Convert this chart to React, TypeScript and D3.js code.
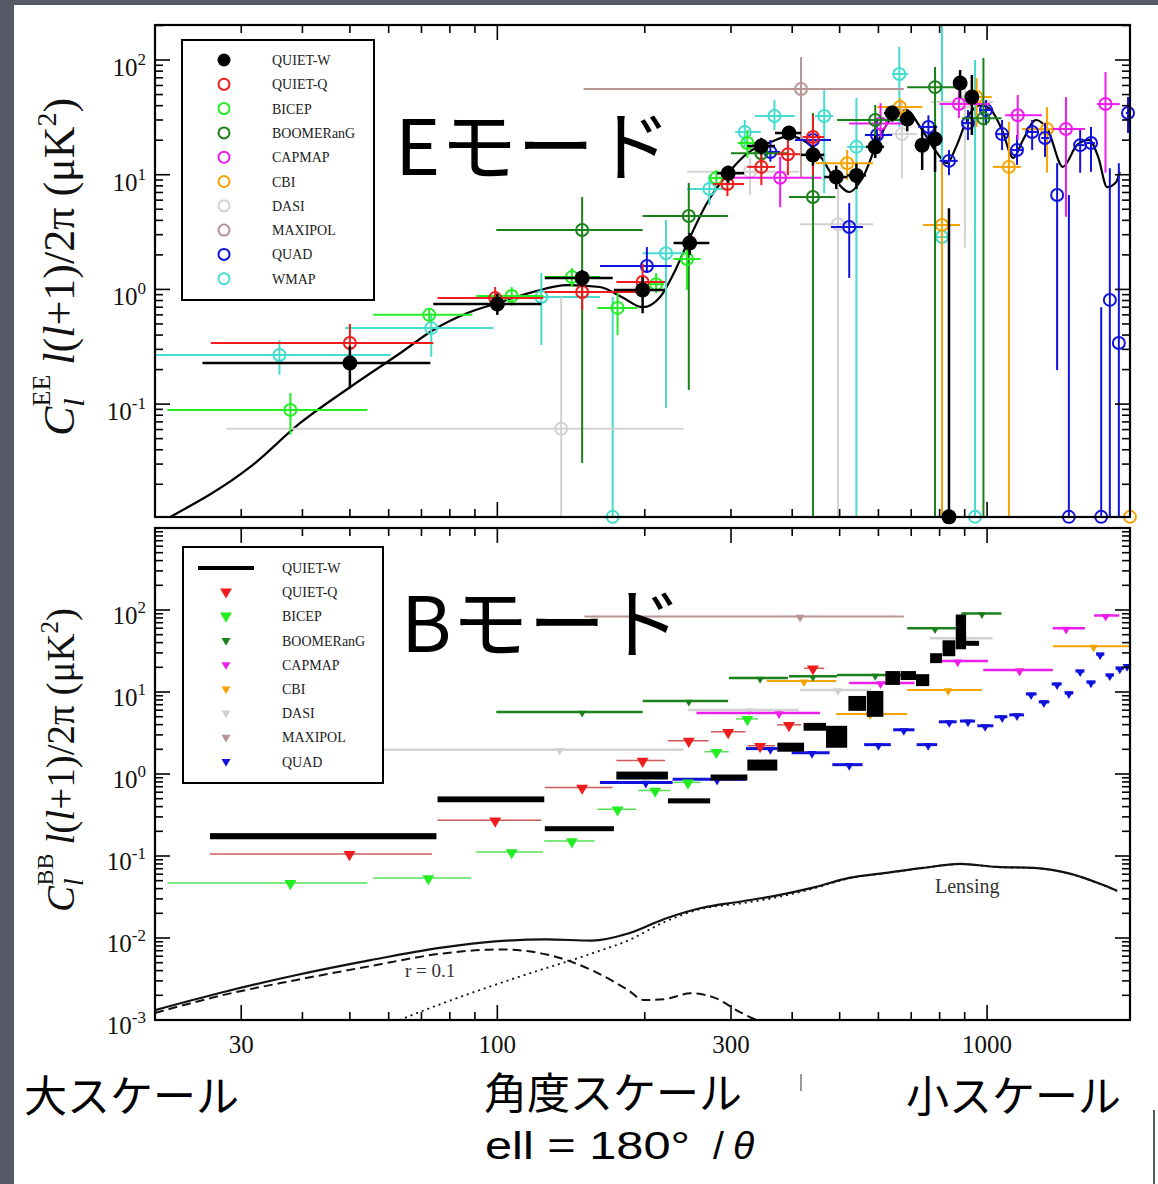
import React from "react";
import * as d3 from "d3";

// [ell, ellLo, ellHi, value, valueLo, valueHi]
type EERow = [number, number, number, number, number, number];
// [ell, ellLo, ellHi, upper limit]
type BBRow = [number, number, number, number];
type Pt = [number, number];

// points that sit on the bottom axis of the EE panel
const FLOOR = 0.0104;

const legendNames = ["QUIET-W", "QUIET-Q", "BICEP", "BOOMERanG", "CAPMAP", "CBI", "DASI", "MAXIPOL", "QUAD", "WMAP"];
const colors: Record<string, string> = {
  "QUIET-W": "#000000",
  "QUIET-Q": "#ee1c1c",
  BICEP: "#22ee22",
  BOOMERanG: "#1a801a",
  CAPMAP: "#ee1cee",
  CBI: "#f5a300",
  DASI: "#d2d2d2",
  MAXIPOL: "#b89494",
  QUAD: "#1212dd",
  WMAP: "#45dccf",
};

// ---------- E-mode band powers ----------
const eeQuietW: EERow[] = [
  [50, 25, 73, 0.228, 0.138, 0.32],
  [100, 74, 123, 0.746, 0.6, 0.92],
  [149, 125, 172, 1.26, 1.05, 1.48],
  [198, 173, 219, 0.99, 0.62, 1.28],
  [247, 229, 271, 2.54, 2.0, 3.1],
  [296, 281, 319, 10.3, 8.5, 12],
  [346, 324, 369, 17.8, 15, 21],
  [394, 369, 417, 23.1, 20, 26],
  [441, 417, 465, 14.9, 12, 18],
  [492, 465, 518, 9.55, 7.5, 12],
  [541, 518, 566, 9.86, 7.5, 12.5],
  [591, 566, 616, 17.5, 14, 22],
  [640, 616, 664, 34.5, 29, 40],
  [687, 664, 712, 30.6, 24, 37],
  [737, 712, 760, 18.1, 11, 25.5],
  [783, 760, 810, 20.5, 10.6, 27],
  [836, 810, 860, FLOOR, FLOOR, 5.1],
  [881, 860, 905, 63, 46.7, 81.8],
  [931, 905, 955, 47.5, 22.2, 74],
];
const eeQuietQ: EERow[] = [
  [50, 26, 74, 0.341, 0.19, 0.5],
  [99, 75.5, 124, 0.84, 0.66, 1.05],
  [149, 125, 203, 0.95, 0.66, 1.14],
  [198, 175, 220, 1.16, 0.89, 1.67],
  [295, 276, 319, 8.3, 6.5, 10.6],
  [346, 324, 369, 11.7, 8.1, 14.9],
  [392, 373, 415, 15.1, 9.9, 20.1],
  [441, 420, 465, 21.3, 9.9, 33],
];
const eeBicep: EERow[] = [
  [37.8, 21.2, 54.3, 0.089, 0.054, 0.125],
  [72.6, 55.8, 88.9, 0.6, 0.53, 0.69],
  [107, 90.6, 124, 0.875, 0.72, 1.05],
  [142, 125, 162, 1.28, 1.05, 1.54],
  [176, 160, 193, 0.69, 0.4, 0.93],
  [211, 203, 219, 1.11, 0.93, 1.39],
  [244, 229, 260, 1.84, 0.99, 2.54],
  [280, 270, 290, 9.35, 8, 11],
  [324, 310, 338, 18.9, 14, 24.5],
];
const eeBoomerang: EERow[] = [
  [149, 99.5, 198, 3.3, 0.0307, 6.4],
  [246, 198, 296, 4.37, 0.133, 8.5],
  [346, 300, 394, 15.4, 12, 20],
  [441, 394, 490, 6.4, FLOOR, 34.5],
  [591, 494, 684, 30, 21.3, 40.5],
  [783, 687, 871, 58, FLOOR, 87],
  [983, 890, 1070, 31, FLOOR, 104],
];
const eeCapmap: EERow[] = [
  [378, 281, 459, 9.4, 5.2, 14.3],
  [606, 523, 684, 28, 21.3, 42],
  [876, 800, 1014, 41.3, 31.2, 54.7],
  [1155, 1089, 1294, 33, 20.1, 49.5],
  [1449, 1362, 1584, 25, 4.3, 47.5],
  [1745, 1676, 1866, 41.3, 10.4, 78.6],
];
const eeCbi: EERow[] = [
  [518, 446, 585, 12.6, 9.0, 16.4],
  [664, 596, 737, 39, 31.2, 46.7],
  [809, 740, 881, 3.65, FLOOR, 13.4],
  [952, 910, 1022, 47.6, 26.1, 69.7],
  [1108, 1028, 1172, 11.7, FLOOR, 28.8],
  [1326, 1178, 1362, 25, 10.4, 38.9],
  [1958, 1958, 1958, FLOOR, FLOOR, FLOOR],
];
const eeDasi: EERow[] = [
  [135, 28, 240, 0.061, FLOOR, 0.86],
  [328, 244, 413, 10.6, 6.65, 14.0],
  [496, 415, 585, 3.7, FLOOR, 9.0],
  [670, 626, 720, 22.6, 9.35, 44.8],
  [901, 768, 1028, 43, 2.3, 58],
];
const eeMaxipol: EERow[] = [[417, 150, 676, 55.9, 9.55, 106]];
const eeQuad: EERow[] = [
  [202, 162, 227, 1.6, 1.39, 2.34],
  [361, 345, 378, 15.8, 13, 20.1],
  [441, 405, 480, 20.1, 16, 25],
  [523, 480, 558, 3.5, 1.26, 5.66],
  [596, 563, 640, 22.2, 16.4, 30],
  [759, 724, 791, 26.1, 20.1, 33],
  [836, 800, 871, 13.2, 9.9, 16.4],
  [914, 890, 940, 28.2, 20.1, 36.6],
  [995, 965, 1030, 36.6, 27, 44.8],
  [1073, 1045, 1105, 22.6, 16.4, 30],
  [1151, 1120, 1185, 16.4, 12.2, 22.2],
  [1236, 1205, 1265, 23.6, 16.4, 30],
  [1313, 1290, 1340, 20.9, 14.3, 28.2],
  [1390, 1390, 1390, 6.65, 0.198, 12.6],
  [1469, 1469, 1469, FLOOR, FLOOR, 6.65],
  [1549, 1520, 1580, 18.1, 10.4, 25.5],
  [1630, 1600, 1660, 18.9, 10.6, 26.1],
  [1710, 1710, 1710, FLOOR, FLOOR, 0.7],
  [1781, 1781, 1781, 0.81, FLOOR, 11.4],
  [1858, 1858, 1858, 0.341, FLOOR, 12.6],
  [1940, 1920, 1958, 34.5, 23.1, 47.5],
];
const eeWmap: EERow[] = [
  [35.9, 20, 60.5, 0.268, 0.18, 0.362],
  [73.3, 48.9, 98.1, 0.46, 0.258, 0.62],
  [123, 108, 162, 0.86, 0.327, 1.39],
  [172, 162, 183, FLOOR, FLOOR, 0.86],
  [221, 198, 241, 2.07, 0.0925, 4.03],
  [271, 244, 296, 7.5, 5.45, 10],
  [320, 306, 345, 23.6, 17.5, 30],
  [368, 336, 405, 32.5, 24.5, 44.8],
  [465, 445, 485, 32.5, 6.9, 54.7],
  [541, 518, 566, 17.5, FLOOR, 46.7],
  [662, 640, 690, 75.5, 26.1, 130],
  [809, 785, 835, 2.86, FLOOR, 202],
  [945, 945, 945, FLOOR, FLOOR, 100],
];

const eeTheory: Pt[] = [
  [21.5, 0.0104], [31.3, 0.0283], [39.6, 0.0685], [50.1, 0.141], [63.4, 0.279], [74, 0.443],
  [86.9, 0.622], [100, 0.76], [118, 0.948], [139, 1.09], [162, 1.05], [181, 0.84], [198, 0.7],
  [215, 0.86], [231, 1.48], [246, 2.7], [268, 5.66], [296, 10.3], [327, 15.8], [362, 19.3],
  [394, 21.7], [427, 19.3], [459, 14.0], [490, 9.0], [523, 7.07], [558, 9.55], [600, 20.1],
  [640, 31.8], [684, 36.6], [730, 26.1], [783, 16.4], [829, 12.6], [864, 17.4], [923, 34.5],
  [972, 40.5], [1019, 36.6], [1073, 24.5], [1131, 14.0], [1184, 20.1], [1259, 30.0], [1331, 24.5],
  [1428, 11.7], [1526, 18.1], [1615, 20.1], [1686, 14.3], [1758, 7.8], [1834, 8.6], [1866, 10.6],
];

// ---------- B-mode ----------
// QUIET-W boxes: [ellLo, ellHi, valueLo, valueHi]
const bbQuietW: [number, number, number, number][] = [
  [25.9, 75.1, 0.16, 0.19],
  [75.5, 124.7, 0.452, 0.533],
  [125, 173, 0.206, 0.225],
  [175, 223, 0.857, 1.07],
  [223, 272, 0.438, 0.505],
  [272.6, 324, 0.834, 0.986],
  [324, 373, 1.1, 1.5],
  [373, 423, 1.87, 2.41],
  [422, 469, 3.37, 4.2],
  [469, 518, 2.09, 3.87],
  [521, 566, 5.89, 8.95],
  [568, 614, 4.98, 10.3],
  [620, 664, 12.2, 18.0],
  [666, 716, 14.0, 18.0],
  [716, 762, 11.8, 16.5],
  [765, 809, 22.5, 29.7],
  [811, 861, 27.3, 42.7],
  [863, 906, 33.2, 88],
  [906, 963, 37.1, 41.5],
];
const bbQuietQ: BBRow[] = [
  [49.9, 25.9, 73.6, 0.106],
  [99, 75.5, 123, 0.273],
  [149, 125, 172, 0.685],
  [198, 175, 220, 1.46],
  [246, 223, 270, 2.55],
  [296, 273, 321, 3.27],
  [344, 324, 369, 2.21],
  [394, 373, 417, 3.98],
  [441, 423, 465, 19.5],
];
const bbBicep: BBRow[] = [
  [37.8, 21.2, 54.3, 0.047],
  [72.3, 55.8, 88.5, 0.054],
  [107, 90.6, 124, 0.112],
  [142, 124.7, 158, 0.152],
  [176, 160, 192, 0.372],
  [210, 194, 226, 0.63],
  [245, 229, 260, 0.79],
  [280, 265, 297, 1.87],
  [324, 307, 341, 4.7],
];
const bbBoomerang: BBRow[] = [
  [149, 99.5, 198, 5.72],
  [246, 198, 296, 7.78],
  [344, 297, 392, 14.8],
  [441, 394, 494, 15.6],
  [591, 494, 680, 16.1],
  [783, 687, 863, 59.7],
  [976, 886, 1070, 90.8],
];
const bbCapmap: BBRow[] = [
  [376, 255, 456, 5.56],
  [606, 523, 711, 12.9],
  [871, 809, 1004, 23.8],
  [1165, 983, 1362, 18.5],
  [1450, 1362, 1584, 59.7],
  [1746, 1654, 1861, 85.7],
];
const bbCbi: BBRow[] = [
  [423, 355, 492, 13.6],
  [577, 492, 687, 5.4],
  [833, 687, 976, 10.6],
  [1165, 983, 1362, 18.5],
  [1650, 1362, 1958, 36.1],
];
const bbDasi: BBRow[] = [
  [134, 28, 240, 1.98],
  [327, 245, 413, 6.05],
  [496, 415, 580, 10.6],
  [901, 763, 1026, 45.2],
];
const bbMaxipol: BBRow[] = [[415, 150.6, 676, 83.4]];
const bbQuad: BBRow[] = [
  [201, 162, 228, 0.79],
  [281, 228, 322, 0.86],
  [361, 322, 373, 2.04],
  [439, 399, 477, 1.82],
  [523, 483, 557, 1.3],
  [600, 561, 636, 2.28],
  [676, 643, 711, 3.46],
  [758, 718, 791, 2.28],
  [837, 797, 867, 4.33],
  [914, 880, 945, 4.42],
  [991, 955, 1030, 3.87],
  [1074, 1035, 1100, 4.98],
  [1151, 1110, 1190, 5.26],
  [1230, 1200, 1262, 9.46],
  [1306, 1275, 1340, 7.57],
  [1390, 1355, 1420, 12.5],
  [1469, 1440, 1500, 9.73],
  [1549, 1515, 1580, 18.0],
  [1630, 1595, 1665, 13.2],
  [1701, 1670, 1735, 28.9],
  [1781, 1745, 1815, 16.1],
  [1866, 1830, 1905, 19.5],
  [1931, 1905, 1958, 21.0],
];

const bbTotal: Pt[] = [
  [20, 0.00132], [27.5, 0.00218], [38.7, 0.00351], [54.8, 0.00533], [77.6, 0.00767], [99, 0.00908],
  [126, 0.0096], [156, 0.0093], [185, 0.01135], [220, 0.0172], [262, 0.0234], [312, 0.0277],
  [369, 0.0327], [439, 0.0409], [523, 0.0541], [622, 0.0622], [740, 0.0716], [881, 0.08],
  [1047, 0.0736], [1246, 0.0716], [1483, 0.0605], [1701, 0.0458], [1843, 0.0377],
];
const bbTensor: Pt[] = [
  [20, 0.00122], [27.5, 0.00201], [38.7, 0.00306], [54.8, 0.00452], [77.6, 0.00649], [102, 0.00726],
  [126, 0.0063], [156, 0.00404], [185, 0.00231], [199, 0.00175], [220, 0.0018], [248, 0.00212],
  [279, 0.00185], [313, 0.00125], [344, 0.001], [378, 0.00085],
];
const bbLensing: Pt[] = [
  [63.1, 0.001], [77.6, 0.00161], [110, 0.00332], [156, 0.00649], [185, 0.00933], [220, 0.0158],
  [262, 0.0228], [312, 0.0262], [369, 0.031], [439, 0.0397], [523, 0.0535], [622, 0.0618],
  [740, 0.0712], [881, 0.0797], [1047, 0.0733], [1246, 0.0713], [1483, 0.0602], [1701, 0.0455],
  [1843, 0.0374],
];

const xTickLabels = [30, 100, 300, 1000];
const topXMajor = [100, 1000];
const eeYLabels = [0.1, 1, 10, 100];
const bbYLabels = [0.001, 0.01, 0.1, 1, 10, 100];

// ---------- scales ----------
const PL = 155, PR = 1130;
const E_TOP = 25, E_BOT = 517, B_TOP = 528, B_BOT = 1020;
const x = d3.scaleLog().domain([20, 1958]).range([PL, PR]).clamp(true);
const yE = d3.scaleLog().domain([0.01037, 202]).range([E_BOT, E_TOP]).clamp(true);
const yB = d3.scaleLog().domain([1e-3, 1e3]).range([B_BOT, B_TOP]).clamp(true);

const isPow10 = (t: number) => Math.abs(Math.log10(t) - Math.round(Math.log10(t))) < 1e-6;
const SERIF = "'Liberation Serif', 'Times New Roman', serif";
const JP = "'Noto Sans CJK JP', 'Noto Sans', sans-serif";
const SANS = "'Liberation Sans', 'Noto Sans', sans-serif";

function Frame({ ys, top, bot, xMajor }: any) {
  const xt = x.ticks();
  const yt = ys.ticks();
  return (
    <g stroke="#000" strokeWidth={1.6}>
      {xt.map((t: number) => {
        const len = xMajor.includes(t) ? 15 : 8;
        const xx = x(t);
        return (
          <g key={"x" + t}>
            <line x1={xx} x2={xx} y1={top} y2={top + len} />
            <line x1={xx} x2={xx} y1={bot} y2={bot - len} />
          </g>
        );
      })}
      {yt.map((t: number) => {
        const len = isPow10(t) ? 15 : 8;
        const yy = ys(t);
        return (
          <g key={"y" + t}>
            <line x1={PL} x2={PL + len} y1={yy} y2={yy} />
            <line x1={PR} x2={PR - len} y1={yy} y2={yy} />
          </g>
        );
      })}
      <rect x={PL} y={top} width={PR - PL} height={bot - top} fill="none" strokeWidth={2.2} />
    </g>
  );
}

function YLabels({ ys, dy, values }: any) {
  return (
    <g fontFamily={SERIF} fill="#111">
      {values.map((t: number) => (
        <text key={t} x={146} y={ys(t) + dy} textAnchor="end" fontSize={25}>
          10<tspan fontSize={17} dy={-11}>{String(Math.round(Math.log10(t)))}</tspan>
        </text>
      ))}
    </g>
  );
}

function EEMarks({ name, rows }: { name: string; rows: EERow[] }) {
  const c = colors[name];
  const filled = name === "QUIET-W";
  return (
    <g stroke={c} strokeWidth={filled ? 2.5 : 2} fill="none">
      {rows.map((r, i) => {
        const cx = x(r[0]);
        const cy = yE(r[3]);
        return (
          <g key={i}>
            {r[2] > r[1] && <line x1={x(r[1])} x2={x(r[2])} y1={cy} y2={cy} />}
            {r[5] > r[4] && <line x1={cx} x2={cx} y1={yE(r[4])} y2={yE(r[5])} />}
            {filled ? (
              <circle cx={cx} cy={cy} r={7.5} fill={c} stroke="none" />
            ) : (
              <circle cx={cx} cy={cy} r={6} />
            )}
          </g>
        );
      })}
    </g>
  );
}

const tri = (cx: number, cy: number, s: number) =>
  `M${cx - s},${cy - s * 0.8}L${cx + s},${cy - s * 0.8}L${cx},${cy + s * 0.9}Z`;

function BBMarks({ name, rows, lw, lineColor, s }: any) {
  const c = colors[name];
  return (
    <g>
      {rows.map((r: BBRow, i: number) => {
        const yy = yB(r[3]);
        return (
          <g key={i}>
            <line x1={x(r[1])} x2={x(r[2])} y1={yy} y2={yy} stroke={lineColor || c} strokeWidth={lw} />
            <path d={tri(x(r[0]), yy + 2, s)} fill={c} />
          </g>
        );
      })}
    </g>
  );
}

const eeOrder: [string, EERow[]][] = [
  ["WMAP", eeWmap],
  ["DASI", eeDasi],
  ["MAXIPOL", eeMaxipol],
  ["CBI", eeCbi],
  ["QUAD", eeQuad],
  ["CAPMAP", eeCapmap],
  ["BOOMERanG", eeBoomerang],
  ["BICEP", eeBicep],
  ["QUIET-Q", eeQuietQ],
  ["QUIET-W", eeQuietW],
];

const bbOrder: [string, BBRow[], number, string | null, number][] = [
  ["MAXIPOL", bbMaxipol, 2, null, 4.5],
  ["DASI", bbDasi, 2.5, null, 4.5],
  ["CBI", bbCbi, 2, null, 4.5],
  ["CAPMAP", bbCapmap, 2.5, null, 4.5],
  ["BOOMERanG", bbBoomerang, 2.5, null, 4],
  ["QUAD", bbQuad, 3, null, 4.5],
  ["BICEP", bbBicep, 1.5, "#55e055", 6],
  ["QUIET-Q", bbQuietQ, 1.5, "#d05a5a", 6],
];

export default function App() {
  const lineE = d3.line<Pt>().x((d) => x(d[0])).y((d) => yE(d[1])).curve(d3.curveMonotoneX);
  const lineB = d3.line<Pt>().x((d) => x(d[0])).y((d) => yB(d[1])).curve(d3.curveMonotoneX);

  return (
    <svg width={1158} height={1184} style={{ position: "absolute", left: 0, top: 0 }} fontFamily={SERIF}>
      <defs>
        <clipPath id="clipE">
          <rect x={PL} y={E_TOP} width={PR - PL} height={E_BOT - E_TOP} />
        </clipPath>
        <clipPath id="clipB">
          <rect x={PL} y={B_TOP} width={PR - PL} height={B_BOT - B_TOP} />
        </clipPath>
      </defs>
      <rect width={1158} height={1184} fill="#555a66" />
      <rect x={14} y={5} width={1144} height={1179} fill="#ffffff" />
      <rect x={1153} y={1110} width={2} height={74} fill="#555a66" />
      <line x1={801} x2={801} y1={1074} y2={1091} stroke="#999" strokeWidth={2} />

      {/* ---------- E-mode panel ---------- */}
      <g clipPath="url(#clipE)">
        <path d={lineE(eeTheory) || ""} fill="none" stroke="#000" strokeWidth={2.2} />
      </g>
      {eeOrder.map(([n, rows]) => (
        <EEMarks key={n} name={n} rows={rows} />
      ))}
      <Frame ys={yE} top={E_TOP} bot={E_BOT} xMajor={topXMajor} />
      <YLabels ys={yE} dy={16} values={eeYLabels} />

      <g>
        <rect x={182} y={40} width={192} height={260} fill="#fff" stroke="#000" strokeWidth={2} />
        {legendNames.map((n, i) => {
          const yy = 60 + i * 24.3;
          return (
            <g key={n}>
              {n === "QUIET-W" ? (
                <circle cx={224} cy={yy} r={6.5} fill="#000" />
              ) : (
                <circle cx={224} cy={yy} r={5.5} fill="none" stroke={colors[n]} strokeWidth={2} />
              )}
              <text x={272} y={yy + 5} fontSize={14} fill="#222">
                {n}
              </text>
            </g>
          );
        })}
      </g>

      <text x={395} y={175} fontFamily={JP} fontSize={77} fill="#000">
        Eモード
      </text>

      <text transform="translate(74,267) rotate(-90)" textAnchor="middle" fontSize={44} fill="#111">
        <tspan fontStyle="italic">C</tspan>
        <tspan fontStyle="italic" fontSize={30} dy={10}>l</tspan>
        <tspan fontSize={26} dx={-8} dy={-34}>EE</tspan>
        <tspan dy={24} dx={10} fontStyle="italic">l</tspan>
        <tspan>(</tspan>
        <tspan fontStyle="italic">l</tspan>
        <tspan>+1)/2π (μK</tspan>
        <tspan fontSize={28} dy={-18}>2</tspan>
        <tspan dy={18}>)</tspan>
      </text>

      {/* ---------- B-mode panel ---------- */}
      <g clipPath="url(#clipB)">
        <path d={lineB(bbLensing) || ""} fill="none" stroke="#111" strokeWidth={1.8} strokeDasharray="2,4" />
        <path d={lineB(bbTensor) || ""} fill="none" stroke="#111" strokeWidth={2} strokeDasharray="9,5" />
        <path d={lineB(bbTotal) || ""} fill="none" stroke="#111" strokeWidth={2.2} />
      </g>
      <text x={935} y={893} fontSize={20} fill="#333">Lensing</text>
      <text x={405} y={977} fontSize={19} fill="#333">r = 0.1</text>

      {bbOrder.map(([n, rows, lw, lc, s]) => (
        <BBMarks key={n} name={n} rows={rows} lw={lw} lineColor={lc} s={s} />
      ))}
      {bbQuietW.map((b, i) => {
        const y1 = yB(b[3]);
        const y0 = yB(b[2]);
        const h = Math.max(y0 - y1, 5);
        return <rect key={i} x={x(b[0])} y={(y0 + y1) / 2 - h / 2} width={x(b[1]) - x(b[0])} height={h} fill="#000" />;
      })}

      <Frame ys={yB} top={B_TOP} bot={B_BOT} xMajor={xTickLabels} />
      <YLabels ys={yB} dy={14} values={bbYLabels} />

      <g>
        <rect x={183} y={547} width={200} height={236} fill="#fff" stroke="#000" strokeWidth={2} />
        {legendNames.slice(0, 9).map((n, i) => {
          const yy = 568 + i * 24.2;
          const s = i < 3 ? 6 : 4.5;
          return (
            <g key={n}>
              {n === "QUIET-W" ? (
                <line x1={198} x2={254} y1={yy} y2={yy} stroke="#000" strokeWidth={4} />
              ) : (
                <path d={tri(226, yy + 1, s)} fill={colors[n]} />
              )}
              <text x={282} y={yy + 5} fontSize={14} fill="#222">
                {n}
              </text>
            </g>
          );
        })}
      </g>

      <text x={401} y={652} fontFamily={JP} fontSize={77} fill="#000">
        Bモード
      </text>

      <text transform="translate(74,760) rotate(-90)" textAnchor="middle" fontSize={39} fill="#111">
        <tspan fontStyle="italic">C</tspan>
        <tspan fontStyle="italic" fontSize={27} dy={9}>l</tspan>
        <tspan fontSize={24} dx={-7} dy={-30}>BB</tspan>
        <tspan dy={21} dx={9} fontStyle="italic">l</tspan>
        <tspan>(</tspan>
        <tspan fontStyle="italic">l</tspan>
        <tspan>+1)/2π (μK</tspan>
        <tspan fontSize={25} dy={-16}>2</tspan>
        <tspan dy={16}>)</tspan>
      </text>

      {xTickLabels.map((t) => (
        <text key={t} x={x(t)} y={1053} textAnchor="middle" fontSize={25} fill="#111">
          {t}
        </text>
      ))}

      {/* ---------- captions ---------- */}
      <g fontFamily={JP} fill="#000">
        <text x={24} y={1112} fontSize={43}>大スケール</text>
        <text x={484} y={1109} fontSize={43}>角度スケール</text>
        <text x={906} y={1112} fontSize={43}>小スケール</text>
      </g>
      <g fontFamily={SANS} fontSize={39} fill="#000">
        <text x={485} y={1159} textLength={205} lengthAdjust="spacingAndGlyphs">ell = 180°</text>
        <text x={713} y={1159}>/</text>
        <text x={733} y={1159} fontStyle="italic">θ</text>
      </g>
    </svg>
  );
}
